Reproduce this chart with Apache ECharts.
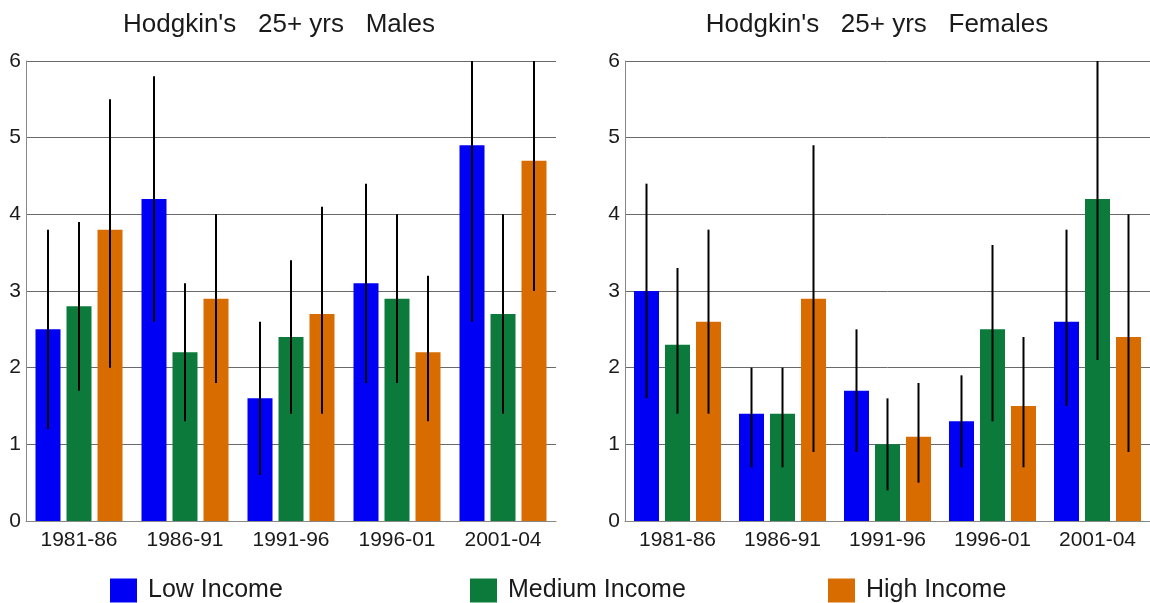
<!DOCTYPE html>
<html>
<head>
<meta charset="utf-8">
<script src="https://cdn.jsdelivr.net/npm/echarts@6/dist/echarts.min.js"></script>
<style>
  html, body { margin: 0; padding: 0; background: #fff; }
  #main { width: 1150px; height: 603px; }
</style>
</head>
<body>
<div id="main"></div>
<script>
var periods = ['1981-86', '1986-91', '1991-96', '1996-01', '2001-04'];
var yTicks = [0, 1, 2, 3, 4, 5, 6];

// Males
var maleLow = [2.5, 4.2, 1.6, 3.1, 4.9];
var maleLowCI = [[1.2, 3.8], [2.6, 5.8], [0.6, 2.6], [1.8, 4.4], [2.6, 6.0]];
var maleMed = [2.8, 2.2, 2.4, 2.9, 2.7];
var maleMedCI = [[1.7, 3.9], [1.3, 3.1], [1.4, 3.4], [1.8, 4.0], [1.4, 4.0]];
var maleHigh = [3.8, 2.9, 2.7, 2.2, 4.7];
var maleHighCI = [[2.0, 5.5], [1.8, 4.0], [1.4, 4.1], [1.3, 3.2], [3.0, 6.0]];

// Females
var femLow = [3.0, 1.4, 1.7, 1.3, 2.6];
var femLowCI = [[1.6, 4.4], [0.7, 2.0], [0.9, 2.5], [0.7, 1.9], [1.5, 3.8]];
var femMed = [2.3, 1.4, 1.0, 2.5, 4.2];
var femMedCI = [[1.4, 3.3], [0.7, 2.0], [0.4, 1.6], [1.3, 3.6], [2.1, 6.0]];
var femHigh = [2.6, 2.9, 1.1, 1.5, 2.4];
var femHighCI = [[1.4, 3.8], [0.9, 4.9], [0.5, 1.8], [0.7, 2.4], [0.9, 4.0]];

var names = ['Low Income', 'Medium Income', 'High Income'];
var colors = ['#0000f4', '#0b7a3b', '#d96c00'];
var barW = 25;
var barStep = 31; // bar width + gap

function errSeries(ci, idx, gridIdx) {
  return {
    type: 'custom',
    xAxisIndex: gridIdx,
    yAxisIndex: gridIdx,
    clip: true,
    z: 5,
    silent: true,
    data: ci.map(function(d, i) { return [i, d[0], d[1]]; }),
    renderItem: function(params, api) {
      var lo = api.coord([api.value(0), api.value(1)]);
      var hi = api.coord([api.value(0), api.value(2)]);
      var x = lo[0] + (idx - 1) * barStep;
      return {
        type: 'line',
        shape: { x1: x, y1: lo[1], x2: x, y2: hi[1] },
        style: { stroke: '#000', lineWidth: 2 }
      };
    }
  };
}

function barSeries(vals, idx, gridIdx) {
  return {
    name: names[idx],
    type: 'bar',
    xAxisIndex: gridIdx,
    yAxisIndex: gridIdx,
    barWidth: barW,
    barGap: '24%',
    itemStyle: { color: colors[idx] },
    data: vals
  };
}

function xAxisOf(gridIdx) {
  return {
    type: 'category',
    gridIndex: gridIdx,
    data: periods,
    axisTick: { show: false },
    axisLine: { lineStyle: { color: '#888', width: 1 } },
    axisLabel: { color: '#1a1a1a', fontSize: 21, fontFamily: 'Liberation Sans', margin: 9 }
  };
}

function yAxisOf(gridIdx) {
  return {
    type: 'value',
    gridIndex: gridIdx,
    min: yTicks[0],
    max: yTicks[yTicks.length - 1],
    interval: 1,
    axisTick: { show: false },
    axisLine: { show: true, lineStyle: { color: '#888', width: 1 } },
    splitLine: { lineStyle: { color: '#6a6a6a', width: 1 } },
    axisLabel: { color: '#1a1a1a', fontSize: 21, fontFamily: 'Liberation Sans', margin: 5 }
  };
}

function legendOf(idx, left) {
  return {
    left: left,
    top: 578,
    padding: 0,
    itemWidth: 27,
    itemHeight: 24,
    icon: 'rect',
    selectedMode: false,
    data: [names[idx]],
    textStyle: { color: '#1a1a1a', fontSize: 25, fontFamily: 'Liberation Sans', padding: [0, 0, 0, 6] }
  };
}

var chart = echarts.init(document.getElementById('main'));
chart.setOption({
  animation: false,
  backgroundColor: '#fff',
  title: [
    { text: "Hodgkin's   25+ yrs   Males", left: 274, top: 7, textAlign: 'center',
      textStyle: { fontSize: 26, fontWeight: 'normal', color: '#1a1a1a', fontFamily: 'Liberation Sans' } },
    { text: "Hodgkin's   25+ yrs   Females", left: 872, top: 7, textAlign: 'center',
      textStyle: { fontSize: 26, fontWeight: 'normal', color: '#1a1a1a', fontFamily: 'Liberation Sans' } }
  ],
  legend: [legendOf(0, 110), legendOf(1, 470), legendOf(2, 828)],
  grid: [
    { left: 26, top: 61, width: 530, height: 460 },
    { left: 625, top: 61, width: 525, height: 460 }
  ],
  xAxis: [xAxisOf(0), xAxisOf(1)],
  yAxis: [yAxisOf(0), yAxisOf(1)],
  series: [
    barSeries(maleLow, 0, 0), barSeries(maleMed, 1, 0), barSeries(maleHigh, 2, 0),
    barSeries(femLow, 0, 1), barSeries(femMed, 1, 1), barSeries(femHigh, 2, 1),
    errSeries(maleLowCI, 0, 0), errSeries(maleMedCI, 1, 0), errSeries(maleHighCI, 2, 0),
    errSeries(femLowCI, 0, 1), errSeries(femMedCI, 1, 1), errSeries(femHighCI, 2, 1)
  ]
});
</script>
</body>
</html>
